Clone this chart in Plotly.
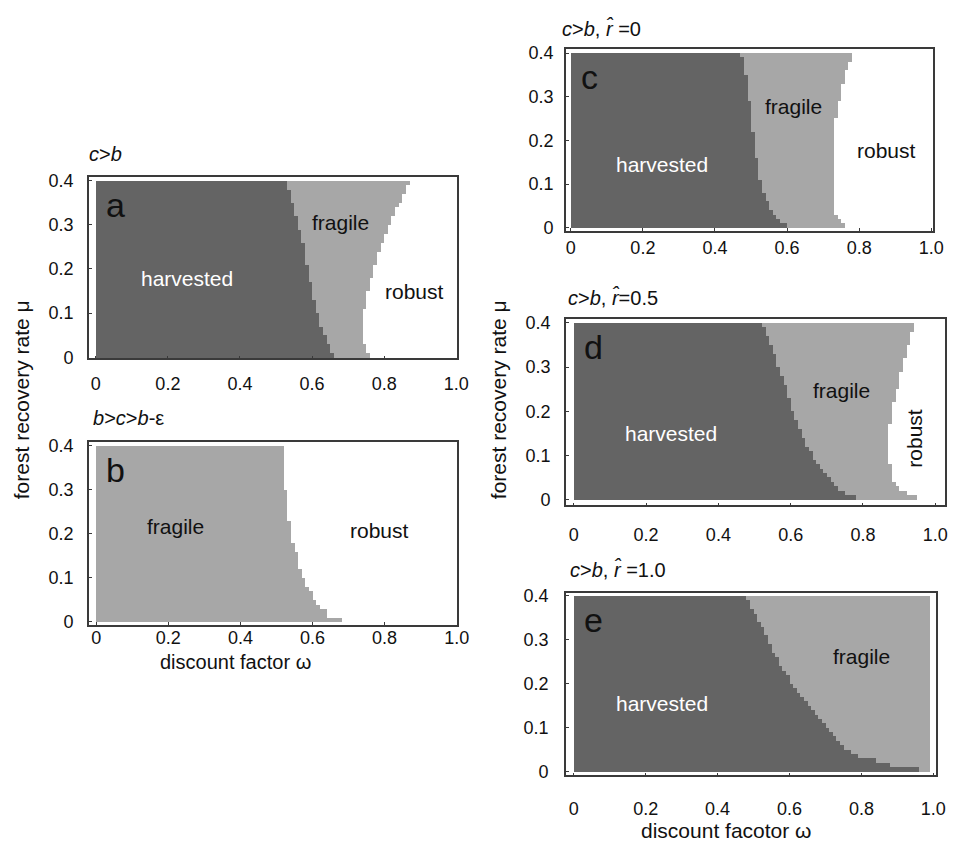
import plotly.graph_objects as go

# ---------------- data (rows listed from top mu=0.395 to bottom mu=0.005) ----------------
MU = [0.395, 0.385, 0.375, 0.365, 0.355, 0.345, 0.335, 0.325, 0.315, 0.305,
      0.295, 0.285, 0.275, 0.265, 0.255, 0.245, 0.235, 0.225, 0.215, 0.205,
      0.195, 0.185, 0.175, 0.165, 0.155, 0.145, 0.135, 0.125, 0.115, 0.105,
      0.095, 0.085, 0.075, 0.065, 0.055, 0.045, 0.035, 0.025, 0.015, 0.005]

# panel a: c>b
A_HARV = [0.53, 0.53, 0.54, 0.54, 0.54, 0.55, 0.55, 0.55, 0.56, 0.56,
          0.56, 0.57, 0.57, 0.57, 0.58, 0.58, 0.58, 0.58, 0.58, 0.59,
          0.59, 0.59, 0.59, 0.60, 0.60, 0.60, 0.60, 0.61, 0.61, 0.61,
          0.62, 0.62, 0.62, 0.63, 0.63, 0.64, 0.64, 0.65, 0.65, 0.66]
A_FRAG = [0.87, 0.86, 0.86, 0.85, 0.85, 0.84, 0.83, 0.83, 0.82, 0.82,
          0.81, 0.81, 0.80, 0.80, 0.79, 0.79, 0.78, 0.78, 0.78, 0.77,
          0.77, 0.77, 0.76, 0.76, 0.76, 0.75, 0.75, 0.75, 0.75, 0.74,
          0.74, 0.74, 0.74, 0.74, 0.74, 0.74, 0.74, 0.75, 0.75, 0.76]
# panel b: b>c>b-eps (no harvested region)
B_HARV = []
B_FRAG = [0.52, 0.52, 0.52, 0.52, 0.52, 0.52, 0.52, 0.52, 0.52, 0.52,
          0.53, 0.53, 0.53, 0.53, 0.53, 0.53, 0.53, 0.54, 0.54, 0.54,
          0.54, 0.54, 0.55, 0.55, 0.56, 0.56, 0.56, 0.56, 0.57, 0.57,
          0.58, 0.58, 0.59, 0.60, 0.60, 0.61, 0.62, 0.64, 0.64, 0.68]
# panel c: c>b, r=0
C_HARV = [0.47, 0.48, 0.48, 0.48, 0.48, 0.49, 0.49, 0.49, 0.49, 0.49,
          0.49, 0.50, 0.50, 0.50, 0.50, 0.50, 0.50, 0.50, 0.51, 0.51,
          0.51, 0.51, 0.51, 0.51, 0.52, 0.52, 0.52, 0.52, 0.52, 0.53,
          0.53, 0.53, 0.54, 0.54, 0.55, 0.55, 0.56, 0.57, 0.58, 0.60]
C_FRAG = [0.78, 0.78, 0.77, 0.77, 0.76, 0.76, 0.76, 0.75, 0.75, 0.75,
          0.75, 0.74, 0.74, 0.74, 0.74, 0.73, 0.73, 0.73, 0.73, 0.73,
          0.73, 0.73, 0.73, 0.73, 0.73, 0.73, 0.73, 0.73, 0.73, 0.73,
          0.73, 0.73, 0.73, 0.73, 0.73, 0.73, 0.73, 0.74, 0.75, 0.76]
# panel d: c>b, r=0.5
D_HARV = [0.52, 0.53, 0.53, 0.54, 0.54, 0.55, 0.55, 0.56, 0.56, 0.56,
          0.57, 0.57, 0.58, 0.58, 0.59, 0.59, 0.59, 0.60, 0.60, 0.60,
          0.61, 0.61, 0.62, 0.62, 0.63, 0.63, 0.64, 0.64, 0.65, 0.66,
          0.66, 0.67, 0.68, 0.69, 0.70, 0.71, 0.72, 0.73, 0.75, 0.78]
D_FRAG = [0.94, 0.94, 0.93, 0.93, 0.93, 0.92, 0.92, 0.92, 0.91, 0.91,
          0.91, 0.90, 0.90, 0.90, 0.90, 0.89, 0.89, 0.89, 0.88, 0.88,
          0.88, 0.88, 0.88, 0.87, 0.87, 0.87, 0.87, 0.87, 0.87, 0.87,
          0.87, 0.87, 0.88, 0.88, 0.88, 0.88, 0.89, 0.90, 0.92, 0.95]
# panel e: c>b, r=1.0
E_HARV = [0.48, 0.49, 0.49, 0.50, 0.51, 0.51, 0.52, 0.53, 0.53, 0.54,
          0.54, 0.55, 0.55, 0.56, 0.57, 0.57, 0.58, 0.59, 0.60, 0.60,
          0.61, 0.62, 0.63, 0.64, 0.65, 0.66, 0.67, 0.68, 0.69, 0.70,
          0.71, 0.72, 0.73, 0.74, 0.75, 0.77, 0.79, 0.84, 0.88, 0.96]
E_FRAG = [0.99, 0.99, 0.99, 0.99, 0.99, 0.99, 0.99, 0.99, 0.99, 0.99,
          0.99, 0.99, 0.99, 0.99, 0.99, 0.99, 0.99, 0.99, 0.99, 0.99,
          0.99, 0.99, 0.99, 0.99, 0.99, 0.99, 0.99, 0.99, 0.99, 0.99,
          0.99, 0.99, 0.99, 0.99, 0.99, 0.99, 0.99, 0.99, 0.99, 0.99]

X_TICKS = [0, 0.2, 0.4, 0.6, 0.8, 1.0]
X_TICK_TEXT = ["0", "0.2", "0.4", "0.6", "0.8", "1.0"]
Y_TICKS = [0, 0.1, 0.2, 0.3, 0.4]
Y_TICK_TEXT = ["0", "0.1", "0.2", "0.3", "0.4"]

ROW_H = 0.01
DARK = "#646464"
LIGHT = "#a7a7a7"
FONT = "Liberation Sans, Arial, sans-serif"
W, H = 962, 853

# layout of panels: frame in pixels (left, right, top, bottom) and axis ranges
PANELS = [
    dict(key="a", harv=A_HARV, frag=A_FRAG, frame=(90, 463, 173, 358),
         xr=(-0.0192, 1.0027), yr=(-0.0022, 0.4089), sx=8, sy=10,
         title="<i>c</i>><i>b</i>", title_pos=(88, 150)),
    dict(key="b", harv=B_HARV, frag=B_FRAG, frame=(90, 463, 443, 630),
         xr=(-0.0205, 1.0014), yr=(-0.0074, 0.408), sx=-5, sy=10,
         title="<i>b</i>><i>c</i>><i>b</i>-ε", title_pos=(92, 419)),
    dict(key="c", harv=C_HARV, frag=C_FRAG, frame=(573, 945, 43, 228),
         xr=(-0.0137, 1.0055), yr=(-0.0067, 0.409), sx=0, sy=7,
         title="<i>c</i>><i>b</i>, <i>r̂</i> =0", title_pos=(567, 22)),
    dict(key="d", harv=D_HARV, frag=D_FRAG, frame=(573, 957, 318, 508),
         xr=(-0.0219, 1.027), yr=(-0.0133, 0.4089), sx=12, sy=10,
         title="<i>c</i>><i>b</i>, <i>r̂</i>=0.5", title_pos=(573, 296)),
    dict(key="e", harv=E_HARV, frag=E_FRAG, frame=(573, 948, 597, 783),
         xr=(-0.022, 1.008), yr=(-0.0089, 0.4067), sx=16, sy=12,
         title="<i>c</i>><i>b</i>, <i>r̂</i> =1.0", title_pos=(575, 573)),
]

# region labels: (panel, text, omega, mu, color, angle)
LABELS = [
    ("a", "harvested", 0.252, 0.178, "white", 0),
    ("a", "fragile", 0.680, 0.305, "#111111", 0),
    ("a", "robust", 0.885, 0.148, "#111111", 0),
    ("b", "fragile", 0.220, 0.215, "#111111", 0),
    ("b", "robust", 0.785, 0.207, "#111111", 0),
    ("c", "harvested", 0.252, 0.146, "white", 0),
    ("c", "fragile", 0.617, 0.278, "#111111", 0),
    ("c", "robust", 0.876, 0.176, "#111111", 0),
    ("d", "harvested", 0.270, 0.150, "white", 0),
    ("d", "fragile", 0.740, 0.246, "#111111", 0),
    ("d", "robust", 0.944, 0.138, "#111111", -90),
    ("e", "harvested", 0.245, 0.155, "white", 0),
    ("e", "fragile", 0.800, 0.262, "#111111", 0),
]

fig = go.Figure()
annotations = []
layout_axes = {}

for i, p in enumerate(PANELS):
    n = "" if i == 0 else str(i + 1)
    xa, ya = "x" + n, "y" + n
    if p["harv"]:
        fig.add_trace(go.Bar(
            y=MU, x=p["harv"], base=0, orientation="h", width=ROW_H,
            marker=dict(color=DARK, line=dict(width=0)),
            xaxis=xa, yaxis=ya, hoverinfo="skip", showlegend=False))
        base = p["harv"]
    else:
        base = [0.0 for _ in MU]
    fig.add_trace(go.Bar(
        y=MU, x=[f - b for f, b in zip(p["frag"], base)], base=base,
        orientation="h", width=ROW_H,
        marker=dict(color=LIGHT, line=dict(width=0)),
        xaxis=xa, yaxis=ya, hoverinfo="skip", showlegend=False))

    l, r, t, b = p["frame"]
    axis_common = dict(showline=True, mirror=True, linecolor="#3a3a3a", linewidth=1.5,
                       ticks="inside", ticklen=3, tickcolor="#3a3a3a",
                       showgrid=False, zeroline=False, fixedrange=True,
                       tickfont=dict(family=FONT, size=18, color="#111111"))
    layout_axes["xaxis" + n] = dict(
        axis_common, domain=[l / W, r / W], range=list(p["xr"]), anchor=ya,
        tickvals=X_TICKS, ticktext=X_TICK_TEXT, ticklabelstandoff=p["sx"])
    layout_axes["yaxis" + n] = dict(
        axis_common, domain=[1 - b / H, 1 - t / H], range=list(p["yr"]), anchor=xa,
        tickvals=Y_TICKS, ticktext=Y_TICK_TEXT, ticklabelstandoff=p["sy"])

    # panel letter
    annotations.append(dict(
        xref=xa, yref=ya, x=0.022, y=0.345, text=p["key"], showarrow=False,
        xanchor="left", yanchor="middle",
        font=dict(family=FONT, size=34, color="#111111")))
    # panel title
    tx, ty = p["title_pos"]
    annotations.append(dict(
        xref="paper", yref="paper", x=tx / W, y=1 - ty / H, text=p["title"],
        showarrow=False, xanchor="left", yanchor="middle",
        font=dict(family=FONT, size=20, color="#111111")))

for key, text, xv, yv, color, ang in LABELS:
    i = "abcde".index(key)
    n = "" if i == 0 else str(i + 1)
    annotations.append(dict(
        xref="x" + n, yref="y" + n, x=xv, y=yv, text=text, showarrow=False,
        xanchor="center", yanchor="middle", textangle=ang,
        font=dict(family=FONT, size=21, color=color)))

# axis titles
annotations += [
    dict(xref="paper", yref="paper", x=22 / W, y=1 - 400 / H,
         text="forest recovery rate μ", textangle=-90, showarrow=False,
         xanchor="center", yanchor="middle",
         font=dict(family=FONT, size=21, color="#111111")),
    dict(xref="paper", yref="paper", x=505 / W, y=1 - 400 / H,
         text="forest recovery rate μ", textangle=-90, showarrow=False,
         xanchor="center", yanchor="middle",
         font=dict(family=FONT, size=21, color="#111111")),
    dict(xref="paper", yref="paper", x=238 / W, y=1 - 668 / H,
         text="discount factor ω", showarrow=False,
         xanchor="center", yanchor="middle",
         font=dict(family=FONT, size=20, color="#111111")),
    dict(xref="paper", yref="paper", x=735 / W, y=1 - 839 / H,
         text="discount facotor ω", showarrow=False,
         xanchor="center", yanchor="middle",
         font=dict(family=FONT, size=21, color="#111111")),
]

fig.update_layout(
    width=W, height=H, autosize=False,
    margin=dict(l=0, r=0, t=0, b=0),
    paper_bgcolor="white", plot_bgcolor="white",
    barmode="overlay", bargap=0, bargroupgap=0,
    showlegend=False, annotations=annotations,
    **layout_axes)

fig.write_html("out.html", config={"displayModeBar": False},
               post_script="document.body.style.margin='0px';"
                           "document.body.style.overflow='hidden';")
